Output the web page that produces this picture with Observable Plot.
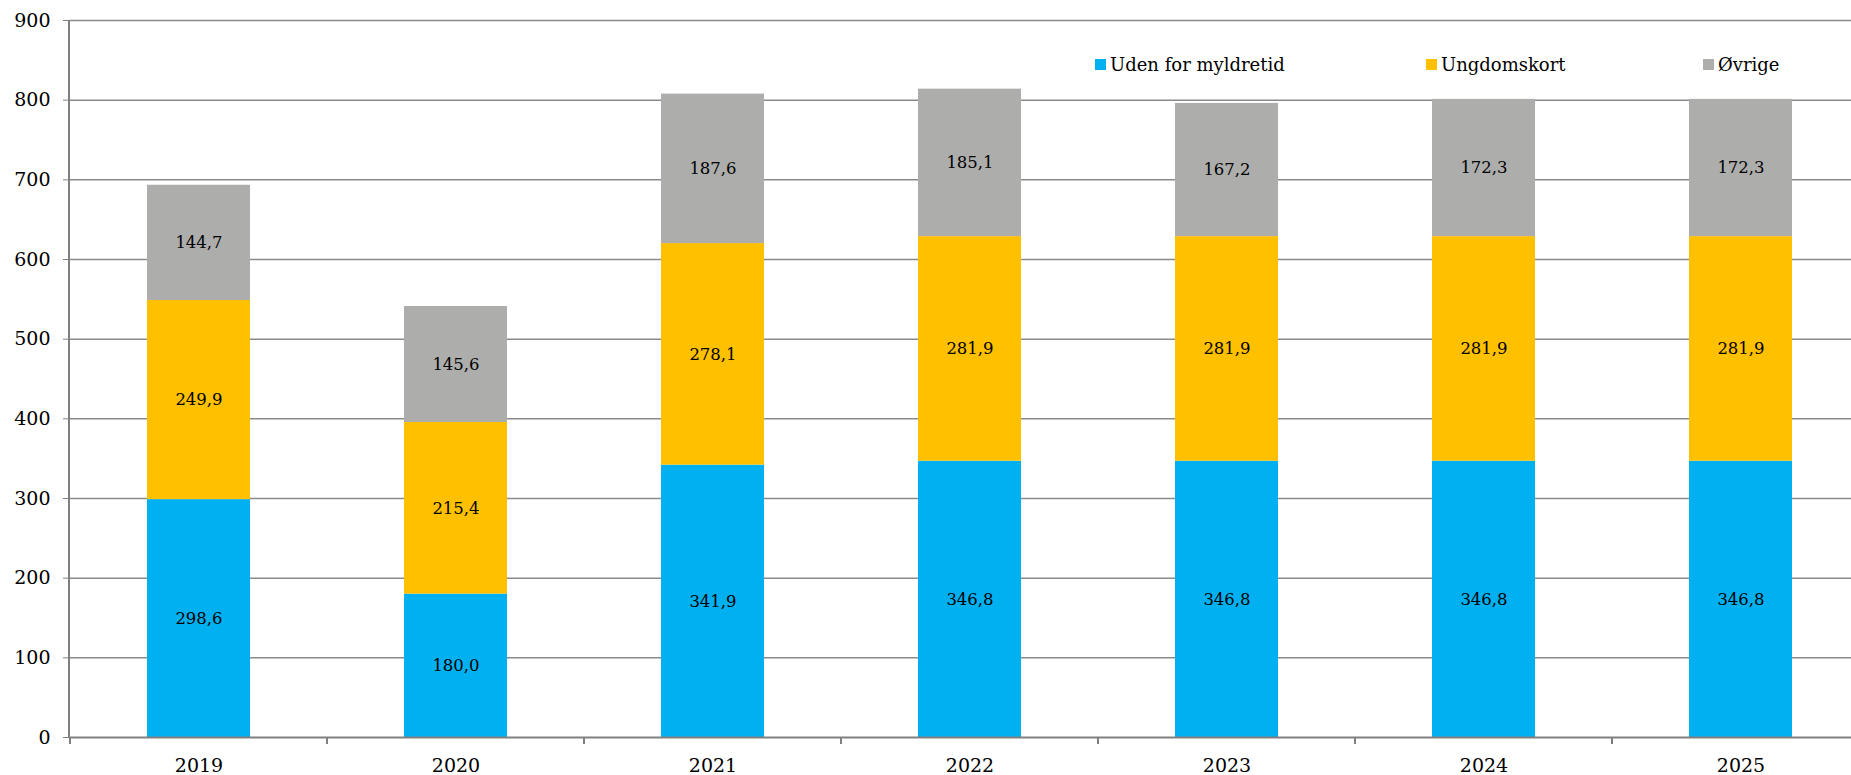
<!DOCTYPE html>
<html><head><meta charset="utf-8">
<script src="https://cdn.jsdelivr.net/npm/d3@7"></script>
<script src="https://cdn.jsdelivr.net/npm/@observablehq/plot@0.6"></script>
<style>
html,body{margin:0;padding:0;background:#fff;}
#wrap{position:relative;width:1851px;height:775px;overflow:hidden;}
#wrap svg{display:block;}
.lg{position:absolute;display:flex;align-items:center;font-family:"DejaVu Serif",serif;font-size:18px;color:#000;white-space:nowrap;}
.lg span.sw{display:inline-block;width:11px;height:11px;margin-right:4px;}
</style></head><body><div id="wrap"></div>
<script>
// ---- data ----
const years = ["2019","2020","2021","2022","2023","2024","2025"];
const series = ["Uden for myldretid","Ungdomskort","Øvrige"];
const udenForMyldretid = [298.6,180.0,341.9,346.8,346.8,346.8,346.8];
const ungdomskort = [249.9,215.4,278.1,281.9,281.9,281.9,281.9];
const ovrige = [144.7,145.6,187.6,185.1,167.2,172.3,172.3];
const yTicks = [0,100,200,300,400,500,600,700,800,900];
const colors = ["#00B0F0","#FFC000","#ADAEAC"];

// ---- layout ----
const W = 1851, H = 775;
const legendLeft = [1095,1426,1703];
const legendTop = 54;

const seriesValues = [udenForMyldretid, ungdomskort, ovrige];
const data = [];
years.forEach((yr,i)=>{
  seriesValues.forEach((vals,j)=>data.push({year:yr, series:series[j], value:vals[i]}));
});
const fmt = v => d3.format(".1f")(v).replace(".", ",");

const chart = Plot.plot({
  width:W, height:H,
  marginLeft:69, marginRight:0, marginTop:20, marginBottom:38,
  style:{fontFamily:"DejaVu Serif", fontSize:"19px", color:"#000", background:"#fff"},
  x:{domain:years, range:[69,1870], paddingInner:0.6, paddingOuter:0.3, label:null},
  y:{domain:[0,900], label:null},
  color:{domain:series, range:colors},
  marks:[
    Plot.ruleY(yTicks.filter(t=>t>0), {stroke:"#8a8a8a", strokeWidth:1.5}),
    Plot.barY(data, {x:"year", y:"value", z:"series", fill:"series"}),
    Plot.text(data, Plot.stackY({x:"year", y:"value", z:"series", text:d=>fmt(d.value), fontSize:16.5, fill:"#000"})),
    Plot.ruleY([0], {stroke:"#808080", strokeWidth:2}),
    Plot.axisY({ticks:yTicks, tickSize:6, tickPadding:13, stroke:"#808080", fill:"#000", fontSize:19, label:null, tickFormat:d=>String(d)}),
    Plot.axisX({tickSize:0, tickPadding:21, fill:"#000", fontSize:19, label:null})
  ]
});
document.getElementById("wrap").appendChild(chart);

// axis line and category boundary ticks from scales
const xs = chart.scale("x"), ys = chart.scale("y");
const svg = d3.select(chart);
const y0 = ys.apply(0), yTop = ys.apply(900);
const x0 = xs.range[0];
svg.append("line").attr("x1",x0).attr("x2",x0).attr("y1",yTop).attr("y2",y0+1)
  .attr("stroke","#808080").attr("stroke-width",2);
const step = xs.step || xs.bandwidth/0.4;
const gap = (step - xs.bandwidth)/2;
const bounds = years.map(yr=>xs.apply(yr)-gap);
bounds.push(xs.apply(years[years.length-1]) + xs.bandwidth + gap);
bounds.filter(b=>b<=W).forEach(b=>{
  svg.append("line").attr("x1",b).attr("x2",b).attr("y1",y0).attr("y2",y0+7)
    .attr("stroke","#808080").attr("stroke-width",2);
});

// legend
const wrap = document.getElementById("wrap");
series.forEach((s,i)=>{
  const d = document.createElement("div");
  d.className = "lg";
  d.style.left = legendLeft[i]+"px";
  d.style.top = legendTop+"px";
  d.innerHTML = `<span class="sw" style="background:${colors[i]}"></span><span>${s}</span>`;
  wrap.appendChild(d);
});
</script></body></html>
